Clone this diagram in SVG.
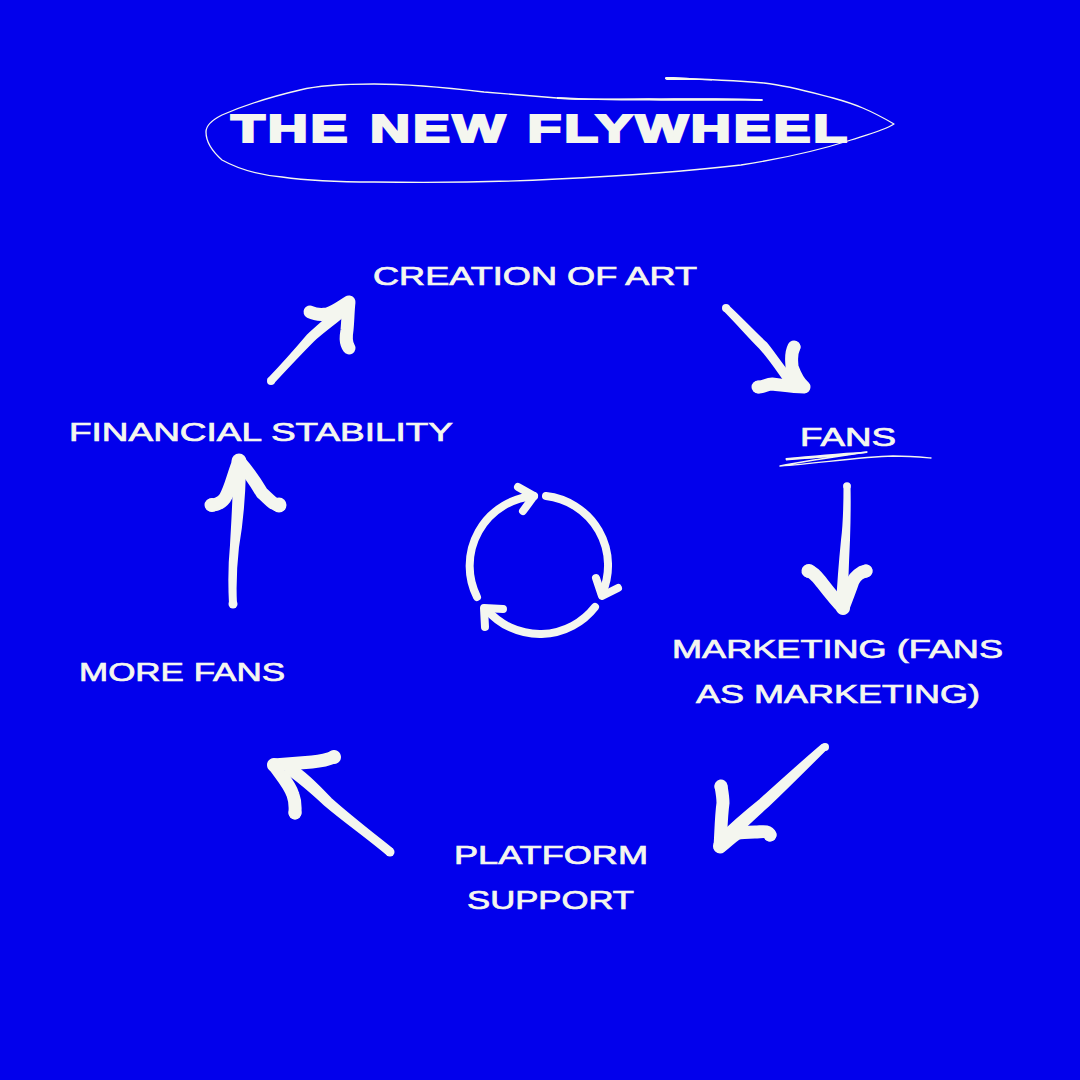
<svg xmlns="http://www.w3.org/2000/svg" width="1080" height="1080" viewBox="0 0 1080 1080">
<style>
text{font-family:"Liberation Sans",Arial,sans-serif;fill:#f4f6ef}
.l{font-size:25px;stroke:#f4f6ef;stroke-width:.7px}
.t{font-size:38.5px;font-weight:700;stroke:#f4f6ef;stroke-width:2.2px;letter-spacing:2px;word-spacing:1px}
.h,.c,.u{fill:none;stroke:#f4f6ef;stroke-linecap:round;stroke-linejoin:round}
.f{fill:#f4f6ef;stroke:#f4f6ef;stroke-width:2px;stroke-linejoin:round}
.h{stroke-width:13px}.c{stroke-width:8px}.u{stroke-width:1.300px}
.d{fill:#f4f6ef}
</style>
<rect width="1080" height="1080" fill="#0200ec"/>
<g id="title">
<path class="u" d="M762 100C720 98 680 100 649 99C610 99 580 100 557 98C530 96 510 94 484 92C450 88 410 84 374 84C345 84 320 85 300 90C270 97 245 105 222 115C212 120 206 126 206 132C206 142 213 152 222 160C240 170 260 175 282 177C310 181 340 182 374 182C430 183 500 182 557 179C620 176 680 172 741 165C780 159 820 150 851 140C870 134 885 130 894 124C870 110 855 104 833 98C810 92 790 86 764 83C730 80 700 79 666 78"/>
<path fill="#f4f6ef" d="M666 77C675 76.500 690 78 712 79.500L712 80.500C695 80 678 80 668 80C665 80 664 78 666 77ZM557 97C590 99 620 99 649 98.500C690 98 730 98 762 99C763.500 100 763 101 761 101C720 100.500 680 101 649 100.500C610 100.500 580 100 557 99Z"/>
<text class="t" x="231" y="142" textLength="619" lengthAdjust="spacingAndGlyphs">THE NEW FLYWHEEL</text>
</g>
<g id="node-creation"><text class="l" x="373" y="285" textLength="324" lengthAdjust="spacingAndGlyphs">CREATION OF ART</text></g>
<g id="node-fans">
<text class="l" x="800" y="445.500" textLength="96" lengthAdjust="spacingAndGlyphs">FANS</text>
<path class="u" d="M786 459C810 458 840 456 867 452C840 456 800 462 780 466C820 463 860 457 893 456C910 456 920 457 931 458"/>
<path fill="#f4f6ef" d="M786 458C810 456 840 453 867 451.500L867 453C840 456 810 459 786 460.500Z"/>
</g>
<g id="node-marketing">
<text class="l" x="672" y="658" textLength="331" lengthAdjust="spacingAndGlyphs">MARKETING (FANS</text>
<text class="l" x="696" y="703" textLength="284" lengthAdjust="spacingAndGlyphs">AS MARKETING)</text>
</g>
<g id="node-platform">
<text class="l" x="454" y="864" textLength="194" lengthAdjust="spacingAndGlyphs">PLATFORM</text>
<text class="l" x="467" y="909" textLength="167" lengthAdjust="spacingAndGlyphs">SUPPORT</text>
</g>
<g id="node-more-fans"><text class="l" x="79" y="681" textLength="206" lengthAdjust="spacingAndGlyphs">MORE FANS</text></g>
<g id="node-financial"><text class="l" x="69" y="441" textLength="384" lengthAdjust="spacingAndGlyphs">FINANCIAL STABILITY</text></g>
<g id="connectors">
<g>
<path class="f" d="M728 306C742 319 756 334 766 343C776 355 786 372 800 386L790 388C781 376 771 360 760 348C748 336 736 322 724 310Z"/>
<circle class="d" cx="726" cy="308" r="4"/>
<path class="h" d="M794 347C790 355 792 362 792 367C795 375 798 382 804 387M759 387C764 387 767 384 772 384C782 385 792 387 804 387"/>
<circle class="d" cx="794.500" cy="347" r="6"/><circle class="d" cx="758" cy="387" r="6.500"/><circle class="d" cx="804" cy="387" r="6"/>
</g>
<g>
<path class="f" d="M849.500 485C850 505 849.500 525 849 540C848 560 847 585 847 606L837 606C838 585 840 560 842 540C844 525 844.500 505 844.500 485Z"/>
<circle class="d" cx="847" cy="486" r="3.800"/>
<path class="h" d="M808 571C814 572 817 577 822 583C829 592 836 601 843 608M866 571C860 572 855 577 853 581C850 590 846 600 843 608"/>
<circle class="d" cx="809" cy="571" r="7"/><circle class="d" cx="866" cy="571" r="6.500"/><circle class="d" cx="843" cy="608" r="7"/>
</g>
<g>
<path class="f" d="M826 749C807 768 787 788 768 806C752 820 738 834 725 846L717 838C730 825 745 812 760 800C780 782 802 762 822 745Z"/>
<circle class="d" cx="825" cy="747" r="4"/>
<path class="h" d="M721 786C722 792 723 797 723 803C721 818 721 832 720 847M770 835C768 830 762 832 755 832C748 832 741 832 736 834C730 838 726 843 720 847"/>
<circle class="d" cx="721" cy="787" r="6.500"/><circle class="d" cx="770" cy="835" r="6.500"/><circle class="d" cx="720" cy="846" r="7"/>
</g>
<g>
<path class="f" d="M388 855C368 838 345 822 325 805C312 793 300 782 285 772L292 764C305 772 318 785 331 799C350 816 372 833 392 849Z"/>
<circle class="d" cx="390" cy="852" r="4.500"/>
<path class="h" d="M334 757C327 760 322 761 312 762C300 763 287 764 274 765M295 813C295 808 296 803 293 795C290 785 281 775 274 765"/>
<circle class="d" cx="334" cy="757" r="7"/><circle class="d" cx="295" cy="813" r="6.500"/><circle class="d" cx="274" cy="765" r="7"/>
</g>
<g>
<path class="f" d="M236 604C235 585 236 565 238 547C241 530 244 510 245 470L234 470C234 500 232 525 231 545C229 565 229 585 230 604Z"/>
<circle class="d" cx="233" cy="604" r="4.500"/>
<path class="h" d="M211 505C217 505 222 502 225 498C231 488 234 472 239 461M279 505C273 505 268 498 262 493C256 483 248 471 239 461"/>
<circle class="d" cx="212" cy="505" r="7"/><circle class="d" cx="279" cy="505" r="7.500"/><circle class="d" cx="239" cy="461" r="7.500"/>
</g>
<g>
<path class="f" d="M268.500 379C283 364 297 348 308 335C320 324 332 314 343 303L350 310C340 320 325 330 313 341C299 355 286 369 273 383Z"/>
<circle class="d" cx="271" cy="381" r="4"/>
<path class="h" d="M310 312C316 315 320 315 327 314C335 312 342 306 349 302M349 348C345 342 346 336 347 330C348 320 348 310 349 302"/>
<circle class="d" cx="311" cy="312" r="5.500"/><circle class="d" cx="349" cy="347" r="5.500"/><circle class="d" cx="349" cy="302" r="5.500"/>
</g>
</g>
<g id="cycle-icon">
<path class="c" d="M546 496A70 70 0 0 1 602 594"/>
<path class="c" d="M596 578L602 596L618 588"/>
<path class="c" d="M595 607A70 70 0 0 1 487 610"/>
<path class="c" d="M503 609L484 608L485 627"/>
<path class="c" d="M477 597A70 70 0 0 1 534 496"/>
<path class="c" d="M518 487L534 496L523 511"/>
</g>
</svg>
